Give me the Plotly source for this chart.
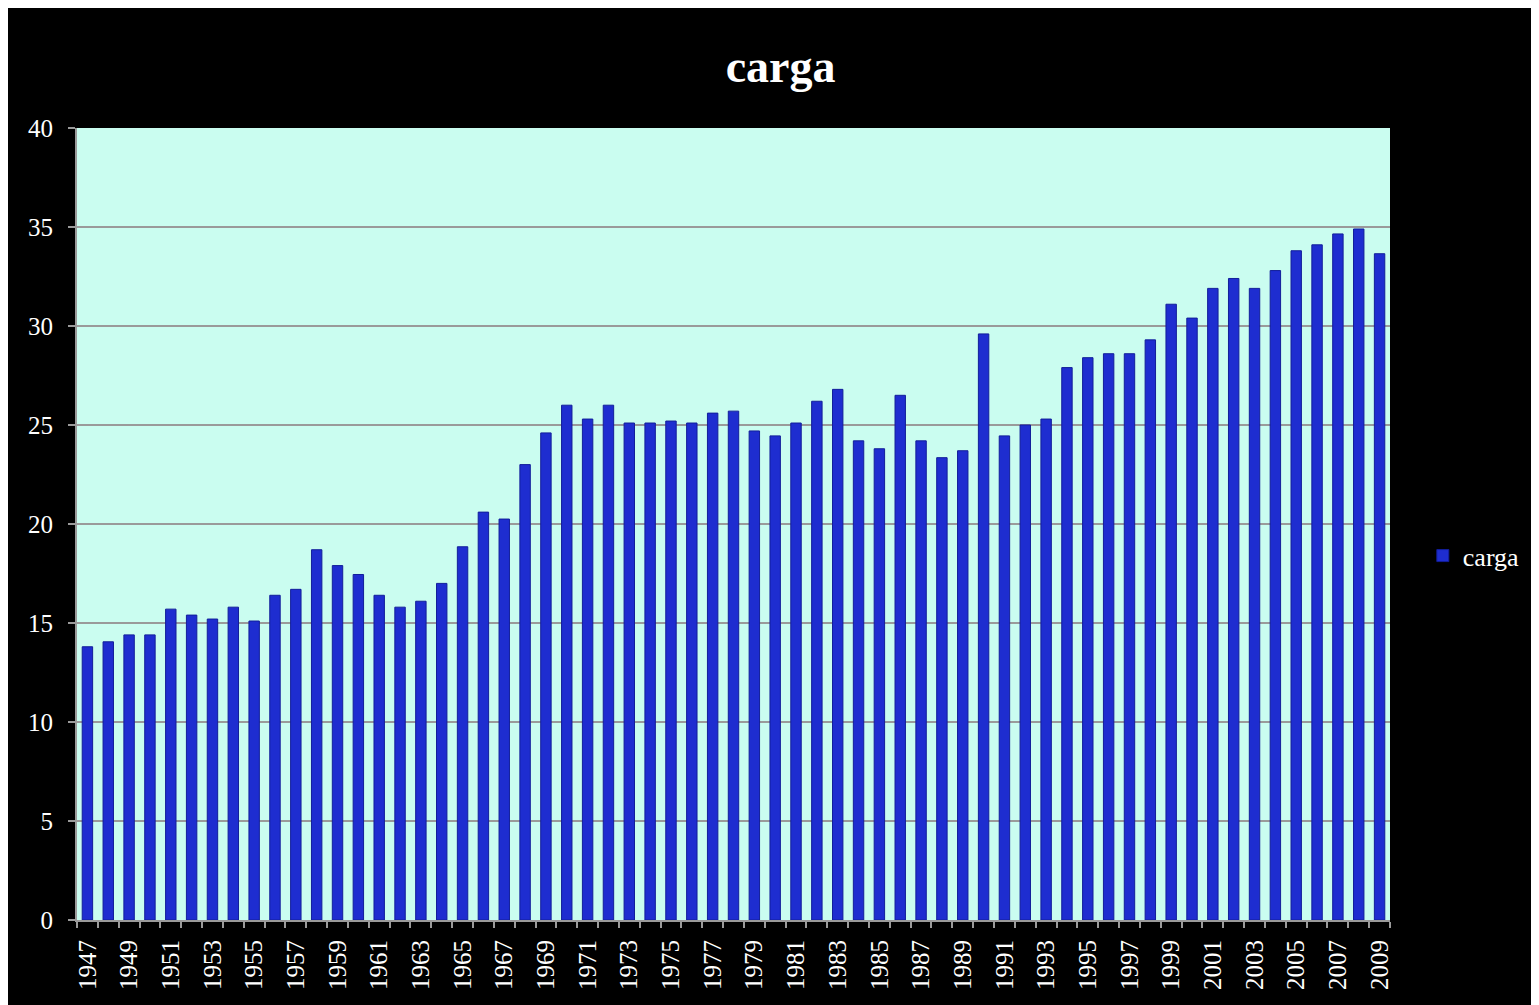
import plotly.graph_objects as go

years = list(range(1947, 2010))
carga = [
    13.8, 14.05, 14.4, 14.4, 15.7, 15.4, 15.2, 15.8, 15.1, 16.4,
    16.7, 18.7, 17.9, 17.45, 16.4, 15.8, 16.1, 17.0, 18.85, 20.6,
    20.25, 23.0, 24.6, 26.0, 25.3, 26.0, 25.1, 25.1, 25.2, 25.1,
    25.6, 25.7, 24.7, 24.45, 25.1, 26.2, 26.8, 24.2, 23.8, 26.5,
    24.2, 23.35, 23.7, 29.6, 24.45, 25.0, 25.3, 27.9, 28.4, 28.6,
    28.6, 29.3, 31.1, 30.4, 31.9, 32.4, 31.9, 32.8, 33.8, 34.1,
    34.65, 34.9, 33.65,
]
label_years = [y for y in years if y % 2 == 1]

serif = "Liberation Serif, Times New Roman, serif"
grid = "#9A9A9A"

fig = go.Figure()
fig.add_trace(
    go.Bar(
        x=years,
        y=carga,
        name="carga",
        width=0.5,
        marker=dict(color="#1E2DD0", line=dict(color="#121E9A", width=1)),
    )
)

fig.update_layout(
    width=1539,
    height=1005,
    paper_bgcolor="#000000",
    plot_bgcolor="#CAFDF0",
    margin=dict(l=69, r=157, t=120, b=93),
    title=dict(
        text="<b>carga</b>",
        x=0.502,
        xanchor="center",
        y=0.942,
        yanchor="middle",
        font=dict(family=serif, size=46, color="white"),
    ),
    font=dict(family=serif, color="white", size=25),
    showlegend=True,
    legend=dict(
        x=1.025,
        xanchor="left",
        y=0.46,
        yanchor="middle",
        font=dict(family=serif, size=26, color="white"),
        bgcolor="rgba(0,0,0,0)",
        itemwidth=30,
    ),
)

fig.update_xaxes(
    range=[1946.5, 2009.5],
    tickmode="array",
    tickvals=label_years,
    ticktext=[str(y) for y in label_years],
    tickangle=-90,
    ticks="",
    ticklabelstandoff=8,
    tickfont=dict(family=serif, size=25, color="white"),
    showgrid=False,
    showline=True,
    linecolor=grid,
    linewidth=2,
    zeroline=False,
    minor=dict(ticks="outside", tick0=1946.5, dtick=1, ticklen=6, tickcolor=grid, tickwidth=2, showgrid=False),
)

fig.update_yaxes(
    range=[0, 40],
    dtick=5,
    ticks="outside",
    ticklen=7,
    tickcolor=grid,
    tickwidth=2,
    ticklabelstandoff=10,
    tickfont=dict(family=serif, size=25, color="white"),
    showgrid=True,
    gridcolor=grid,
    gridwidth=2,
    showline=True,
    linecolor=grid,
    linewidth=2,
    zeroline=False,
)

fig.write_html("out.html")
